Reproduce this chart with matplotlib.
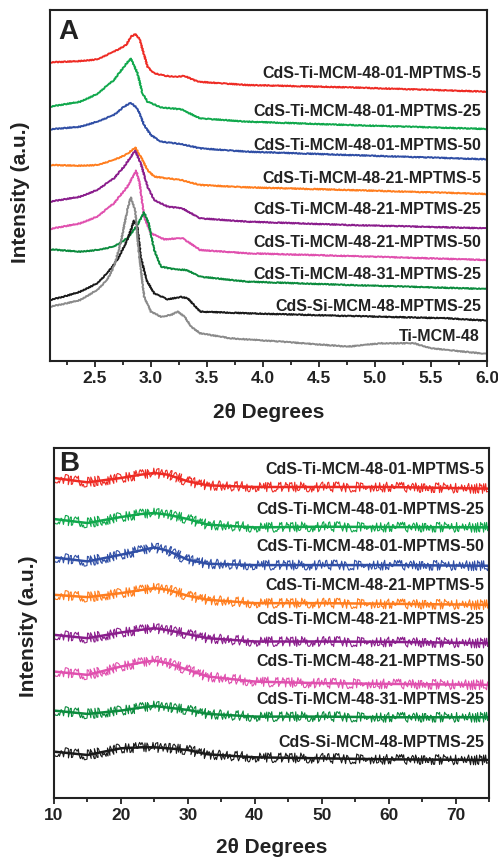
import matplotlib
matplotlib.use("Agg")
import matplotlib.pyplot as plt
from matplotlib.ticker import MultipleLocator, FormatStrFormatter

plt.rcParams['font.family'] = ['Liberation Sans', 'DejaVu Sans']
plt.rcParams['font.weight'] = 'bold'

# ---- panel A : low angle XRD (2theta in degrees, intensity in arbitrary units) ----
a_names = ['CdS-Ti-MCM-48-01-MPTMS-5', 'CdS-Ti-MCM-48-01-MPTMS-25', 'CdS-Ti-MCM-48-01-MPTMS-50',
           'CdS-Ti-MCM-48-21-MPTMS-5', 'CdS-Ti-MCM-48-21-MPTMS-25', 'CdS-Ti-MCM-48-21-MPTMS-50',
           'CdS-Ti-MCM-48-31-MPTMS-25', 'CdS-Si-MCM-48-MPTMS-25', 'Ti-MCM-48']
a_colors = ['#ee2b24', '#10a84c', '#2f4ea5', '#ff7d1e', '#8a1d8c', '#e050ae', '#0b8b3d', '#1a1a1a', '#8a8a8a']
a_label_y = [863, 748, 648, 548, 453, 355, 258, 163, 73]

red_x = [2.10, 2.37, 2.52, 2.67, 2.78, 2.82, 2.865, 2.90, 2.97, 3.03, 3.14, 3.22, 3.30, 3.42, 3.86, 4.76, 6.00]
red_y = [896, 900, 905, 928, 948, 973, 981, 965, 883, 863, 855, 853, 855, 838, 828, 821, 808]

green_x = [2.10, 2.37, 2.52, 2.67, 2.76, 2.82, 2.88, 2.925, 2.97, 3.09, 3.27, 3.44, 3.86, 4.76, 6.00]
green_y = [763, 778, 801, 843, 883, 908, 864, 803, 778, 761, 755, 728, 718, 708, 696]

blue_x = [2.10, 2.37, 2.52, 2.67, 2.76, 2.82, 2.88, 2.94, 3.00, 3.09, 3.27, 3.44, 3.86, 4.76, 6.00]
blue_y = [695, 703, 718, 738, 763, 775, 758, 708, 678, 658, 651, 638, 628, 618, 605]

orange_x = [2.10, 2.37, 2.52, 2.67, 2.79, 2.86, 2.91, 2.97, 3.03, 3.27, 3.44, 3.86, 4.76, 6.00]
orange_y = [588, 586, 588, 603, 621, 641, 613, 573, 553, 543, 528, 521, 513, 501]

purple_x = [2.10, 2.37, 2.52, 2.67, 2.76, 2.86, 2.91, 2.97, 3.03, 3.15, 3.28, 3.44, 3.86, 4.76, 6.00]
purple_y = [478, 493, 513, 548, 583, 631, 593, 523, 483, 463, 458, 428, 418, 408, 398]

pink_x = [2.10, 2.37, 2.52, 2.67, 2.79, 2.87, 2.90, 2.94, 3.00, 3.12, 3.28, 3.44, 3.86, 4.76, 6.00]
pink_y = [396, 413, 433, 473, 523, 571, 533, 433, 383, 365, 369, 333, 323, 315, 303]

dgreen_x = [2.10, 2.37, 2.52, 2.67, 2.79, 2.88, 2.94, 2.98, 3.03, 3.09, 3.21, 3.32, 3.44, 3.86, 4.76, 6.00]
dgreen_y = [335, 328, 333, 343, 368, 408, 446, 413, 333, 283, 275, 273, 253, 238, 228, 216]

black_x = [2.10, 2.22, 2.37, 2.52, 2.61, 2.70, 2.79, 2.85, 2.88, 2.91, 2.96, 3.03, 3.15, 3.27, 3.33, 3.44, 3.86, 4.76, 5.65, 6.00]
black_y = [183, 193, 208, 233, 263, 303, 363, 421, 403, 313, 243, 203, 185, 192, 188, 148, 143, 135, 128, 121]

gray_x = [2.10, 2.22, 2.37, 2.52, 2.61, 2.67, 2.73, 2.79, 2.82, 2.86, 2.89, 2.94, 3.00, 3.09, 3.18, 3.24,
          3.30, 3.36, 3.44, 3.71, 4.16, 4.76, 5.05, 5.35, 5.50, 6.00]
gray_y = [163, 171, 183, 213, 243, 283, 353, 453, 491, 453, 333, 193, 148, 133, 138, 148,
          133, 103, 83, 68, 58, 43, 53, 53, 38, 21]

a_x = [red_x, green_x, blue_x, orange_x, purple_x, pink_x, dgreen_x, black_x, gray_x]
a_y = [red_y, green_y, blue_y, orange_y, purple_y, pink_y, dgreen_y, black_y, gray_y]

# ---- panel B : wide angle XRD ----
b_names = a_names[:8]
b_colors = ['#ee2b24', '#10a84c', '#2f4ea5', '#ff7d1e', '#8a1d8c', '#e050ae', '#0b8b3d', '#1a1a1a']
b_label_y = [983, 863, 753, 635, 533, 408, 295, 165]
b_x = [10, 15, 20, 23, 25, 27, 30, 33, 40, 50, 60, 75]
b_red = [958, 945, 958, 968, 973, 968, 948, 936, 931, 931, 931, 926]
b_green = [835, 823, 841, 850, 853, 848, 835, 818, 810, 812, 811, 810]
b_blue = [720, 708, 728, 741, 750, 740, 713, 701, 697, 697, 697, 695]
b_orange = [608, 601, 613, 622, 628, 623, 605, 593, 583, 583, 581, 578]
b_purple = [488, 478, 495, 503, 508, 502, 490, 478, 468, 468, 467, 463]
b_pink = [378, 368, 393, 405, 411, 403, 383, 363, 348, 343, 341, 338]
b_dgreen = [261, 251, 261, 270, 275, 270, 263, 251, 243, 243, 241, 241]
b_black = [138, 128, 148, 151, 151, 148, 143, 130, 121, 118, 115, 113]
b_y = [b_red, b_green, b_blue, b_orange, b_purple, b_pink, b_dgreen, b_black]


def style_axes(ax):
    for s in ax.spines.values():
        s.set_linewidth(1.5)
        s.set_color('#222222')
    ax.set_yticks([])
    ax.tick_params(axis='x', which='major', direction='out', length=4.5, width=1.3,
                   labelsize=12.5, pad=3, colors='#222222')
    ax.tick_params(axis='x', which='minor', direction='out', length=3, width=1.3, colors='#222222')
    ax.set_ylabel('Intensity (a.u.)', fontsize=15, fontweight='bold', color='#222222')
    ax.set_xlabel('2\u03b8 Degrees', fontsize=15, fontweight='bold', color='#222222')


fig = plt.figure(figsize=(4.98, 8.57), dpi=100)

axA = fig.add_axes([0.1004, 0.5788, 0.8776, 0.4095])
for xs, ys, c in zip(a_x, a_y, a_colors):
    ln, = axA.plot(xs, ys, color=c, lw=1.4)
    ln.set_sketch_params(scale=0.5, length=3, randomness=2)
for name, ly in zip(a_names, a_label_y):
    axA.text(0.986 if name != 'Ti-MCM-48' else 0.982, ly, name, transform=axA.get_yaxis_transform(),
             ha='right', va='center', fontsize=11.5, fontweight='bold', color='#222222')
axA.set_xlim(2.1, 6.0)
axA.set_ylim(0, 1053)
axA.xaxis.set_major_locator(MultipleLocator(0.5))
axA.xaxis.set_minor_locator(MultipleLocator(0.25))
axA.xaxis.set_major_formatter(FormatStrFormatter('%.1f'))
style_axes(axA)
axA.yaxis.set_label_coords(-0.046, 0.482)
axA.xaxis.set_label_coords(0.5, -0.12)
axA.text(0.02, 0.975, 'A', transform=axA.transAxes, ha='left', va='top',
         fontsize=20, fontweight='bold', color='#222222')

axB = fig.add_axes([0.1084, 0.0692, 0.8735, 0.4081])
for ys, c in zip(b_y, b_colors):
    # solid core plus a jagged sketch stroke to mimic the noisy wide-angle scans
    axB.plot(b_x, ys, color=c, lw=1.8)
    ln, = axB.plot(b_x, ys, color=c, lw=0.8)
    ln.set_sketch_params(scale=5, length=1, randomness=8)
for name, ly in zip(b_names, b_label_y):
    axB.text(0.989, ly, name, transform=axB.get_yaxis_transform(),
             ha='right', va='center', fontsize=11.5, fontweight='bold', color='#222222')
axB.set_xlim(10, 75)
axB.set_ylim(0, 1048)
axB.xaxis.set_major_locator(MultipleLocator(10))
axB.xaxis.set_minor_locator(MultipleLocator(5))
style_axes(axB)
axB.yaxis.set_label_coords(-0.037, 0.49)
axB.xaxis.set_label_coords(0.5, -0.115)
axB.text(0.012, 0.99, 'B', transform=axB.transAxes, ha='left', va='top',
         fontsize=20, fontweight='bold', color='#222222')

fig.savefig('out.png', dpi=100)
